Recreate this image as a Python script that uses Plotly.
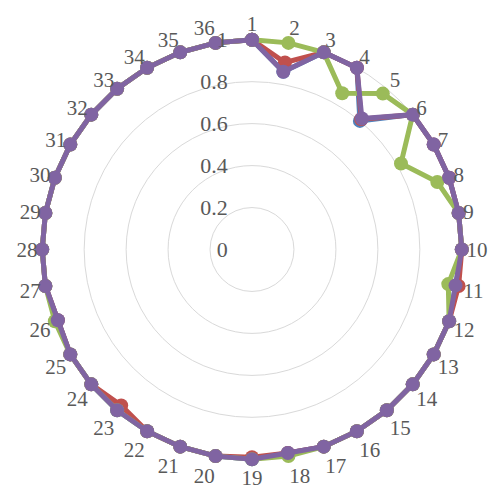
import plotly.graph_objects as go

# Category labels around the radar (1..36, clockwise from the top)
categories = [str(i) for i in range(1, 37)]

# Series values (radial scale 0..1)
series_blue = [1, 0.86, 1, 1, 0.80, 1, 1, 1, 1, 1, 0.985, 1,
               1, 1, 1, 1, 1, 0.985, 1, 1, 1, 1, 1, 1,
               1, 0.985, 1, 1, 1, 1, 1, 1, 1, 1, 1, 1]
series_red = [1, 0.905, 1, 1, 0.81, 1, 1, 1, 1, 1, 1, 1,
              1, 1, 1, 1, 1, 0.985, 0.99, 1, 1, 1, 0.97, 1,
              1, 0.985, 1, 1, 1, 1, 1, 1, 1, 1, 1, 1]
series_green = [1, 1, 1, 0.86, 0.97, 1, 0.82, 0.94, 1, 1, 0.95, 1,
                1, 1, 1, 1, 1, 1, 1, 1, 1, 1, 1, 1,
                1, 1, 1, 1, 1, 1, 1, 1, 1, 1, 1, 1]
series_purple = [1, 0.86, 1, 1, 0.815, 1, 1, 1, 1, 1, 0.985, 1,
                 1, 1, 1, 1, 1, 0.985, 1, 1, 1, 1, 1, 1,
                 1, 0.985, 1, 1, 1, 1, 1, 1, 1, 1, 1, 1]

radial_ticks = [0, 0.2, 0.4, 0.6, 0.8, 1]
radial_ticktext = ["0", "0.2", "0.4", "0.6", "0.8", "1"]

series = [
    ("Series1", series_blue, "#4F81BD"),
    ("Series2", series_red, "#C0504D"),
    ("Series3", series_green, "#9BBB59"),
    ("Series4", series_purple, "#8064A2"),
]

fig = go.Figure()
for name, vals, color in series:
    # close the loop back to the first category
    fig.add_trace(go.Scatterpolar(
        r=vals + vals[:1],
        theta=categories + categories[:1],
        mode="lines+markers",
        name=name,
        cliponaxis=False,
        line=dict(color=color, width=5),
        marker=dict(color=color, size=14),
    ))

angular_font = dict(family="Liberation Serif", size=21, color="#595959")
radial_font = dict(family="Liberation Serif", size=22, color="#595959")

# a little headroom beyond 1 so lines sitting on the outer ring are not clipped
fig.update_layout(
    width=491,
    height=490,
    margin=dict(l=38, r=25, t=35, b=26),
    paper_bgcolor="white",
    plot_bgcolor="white",
    showlegend=False,
    polar=dict(
        bgcolor="white",
        domain=dict(x=[0, 1], y=[0, 1]),
        radialaxis=dict(
            range=[0, 1.02],
            tickvals=radial_ticks,
            ticktext=radial_ticktext,
            angle=90,
            tickangle=90,
            side="counterclockwise",
            showline=False,
            showgrid=True,
            gridcolor="#D9D9D9",
            gridwidth=1.4,
            ticks="outside",
            ticklen=16,
            tickcolor="rgba(0,0,0,0)",
            tickfont=radial_font,
        ),
        angularaxis=dict(
            type="category",
            categoryarray=categories,
            direction="clockwise",
            rotation=90,
            showgrid=False,
            showline=False,
            ticks="",
            tickfont=angular_font,
        ),
    ),
)

fig.write_html("out.html")
